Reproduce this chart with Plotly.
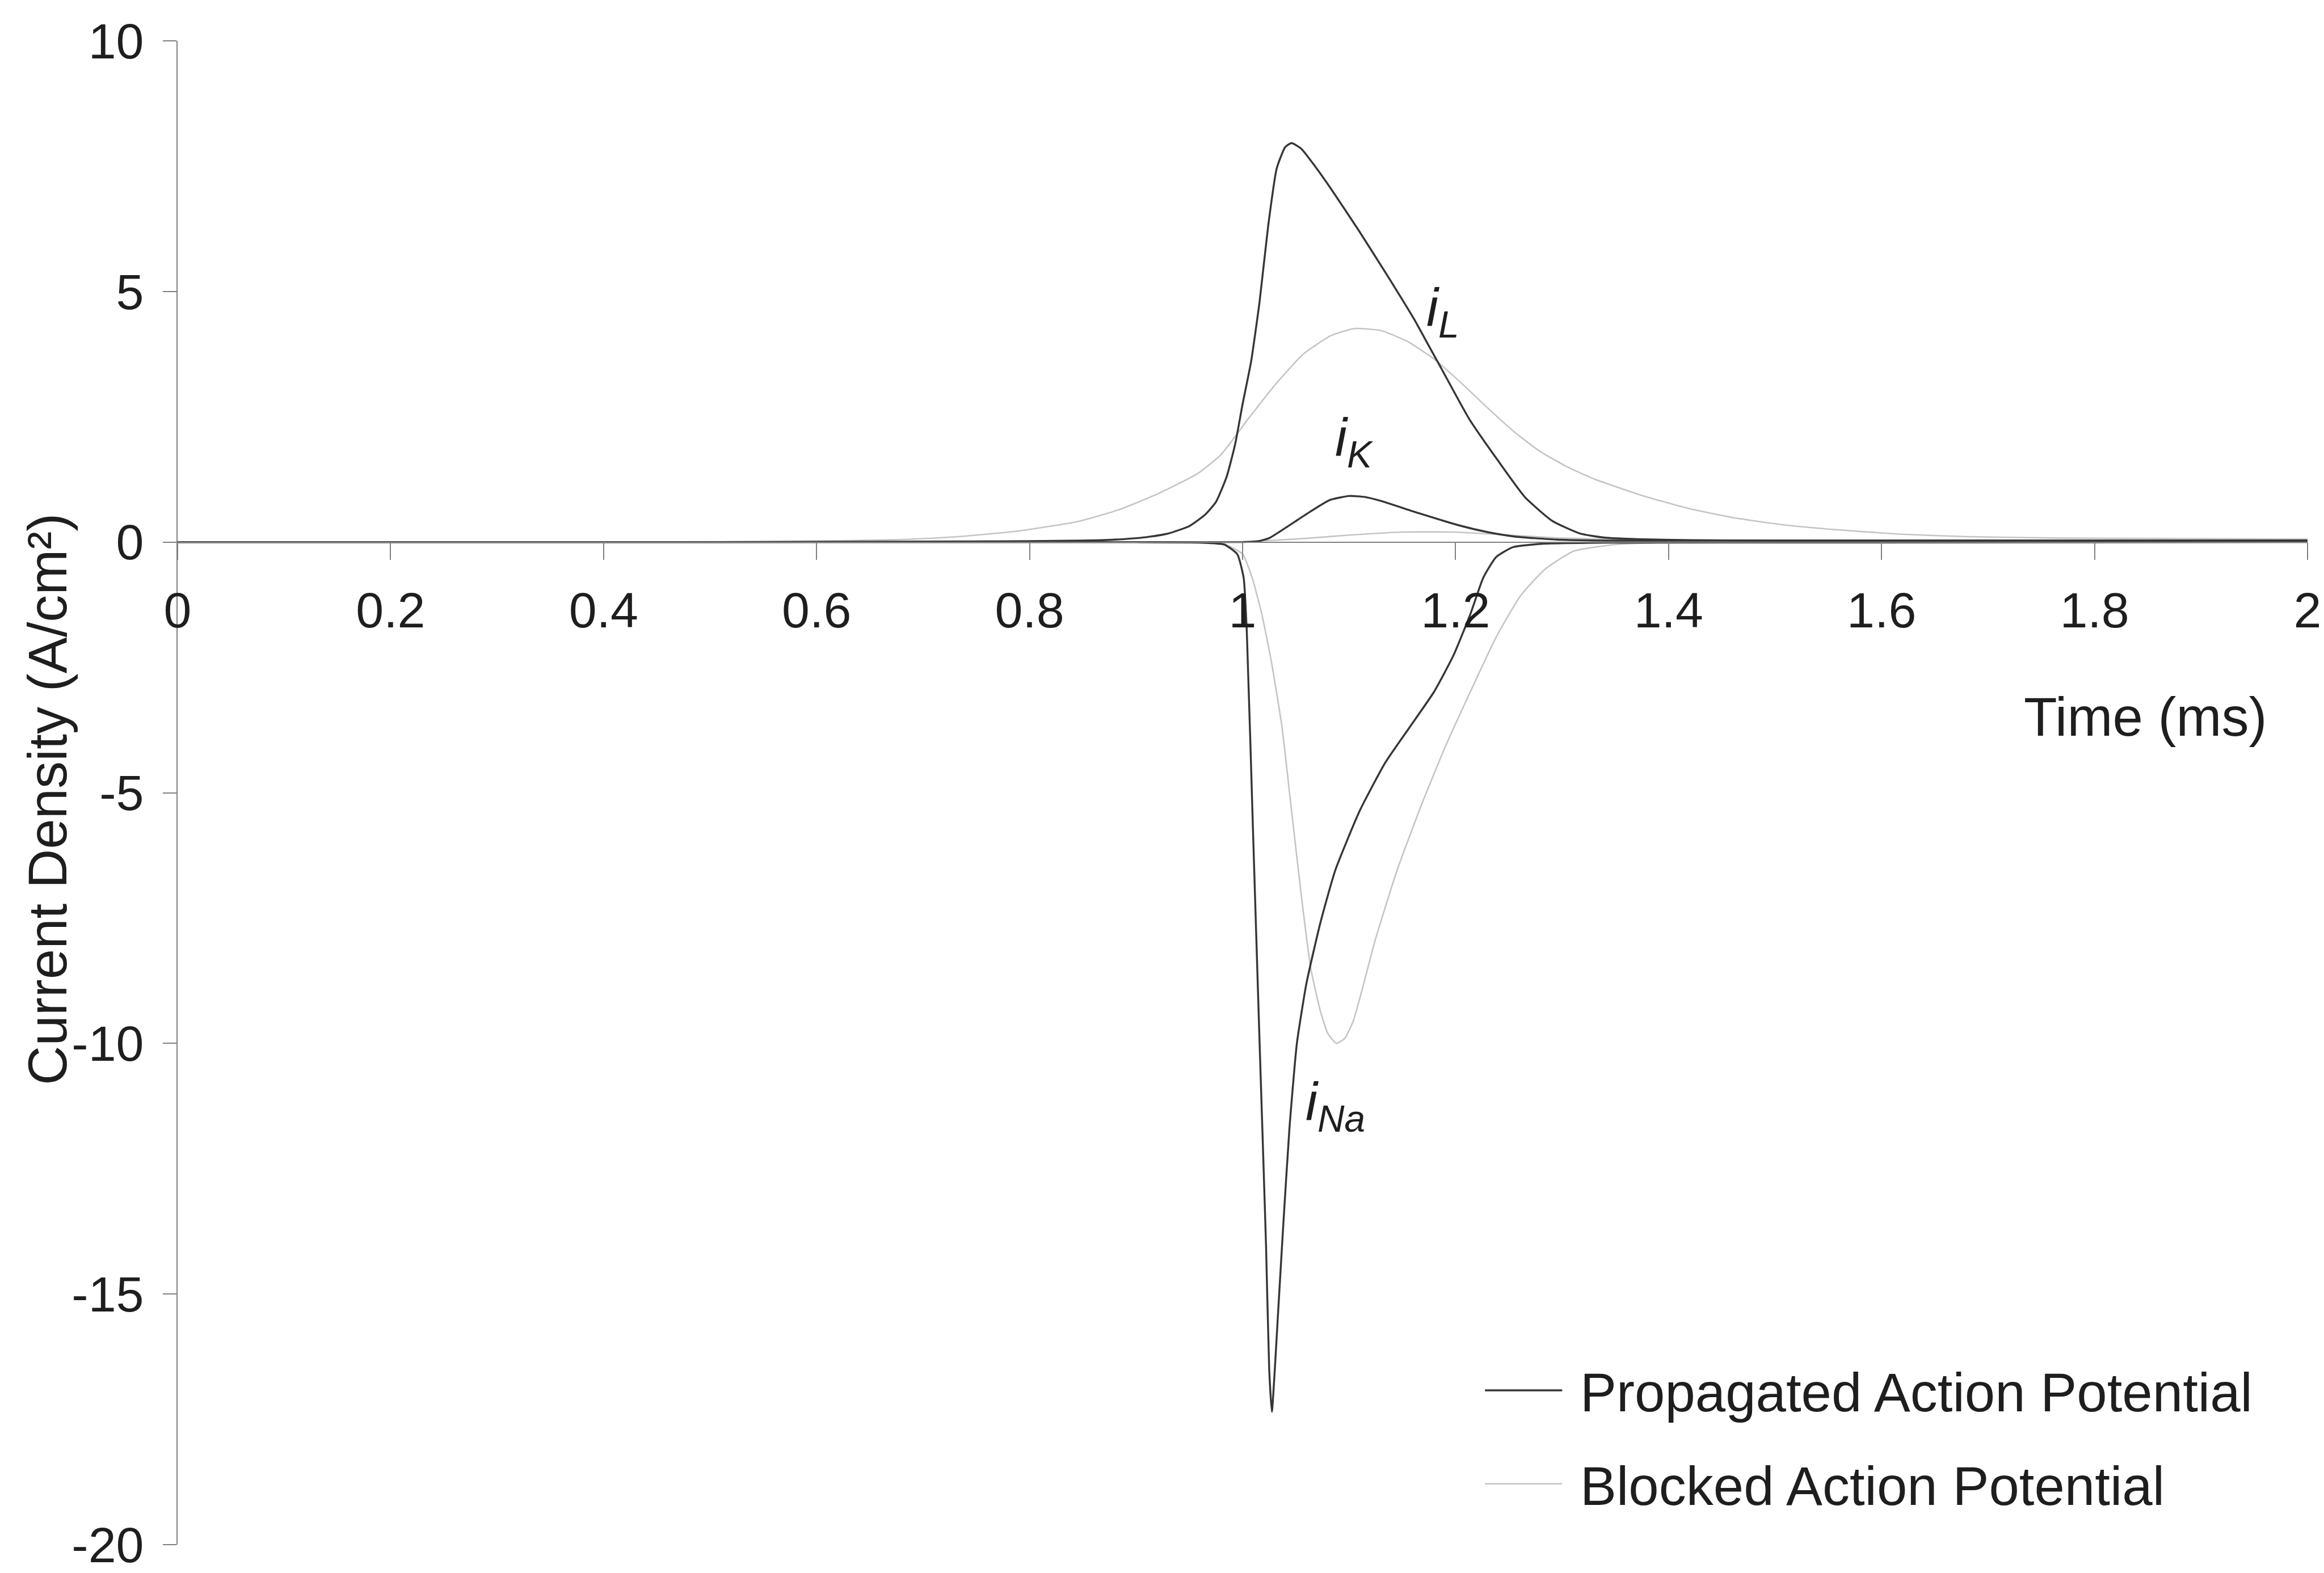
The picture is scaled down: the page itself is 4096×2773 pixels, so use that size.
import plotly.graph_objects as go

# ---------------- data ----------------
t_prop_iL = [0, 0.5, 0.7, 0.8, 0.85, 0.88, 0.91, 0.93, 0.95, 0.965, 0.975, 0.985, 0.993, 1.0, 1.008,
             1.016, 1.024, 1.032, 1.040, 1.046, 1.055, 1.068, 1.083, 1.109, 1.135, 1.161, 1.174,
             1.187, 1.213, 1.239, 1.265, 1.291, 1.317, 1.34, 1.37, 1.42, 1.5, 1.7, 2.0]
v_prop_iL = [0, 0, 0.01, 0.02, 0.03, 0.05, 0.1, 0.17, 0.32, 0.55, 0.8, 1.3, 1.95, 2.75, 3.6,
             4.8, 6.3, 7.45, 7.88, 7.96, 7.85, 7.5, 7.05, 6.22, 5.35, 4.45, 3.95,
             3.45, 2.45, 1.65, 0.9, 0.42, 0.17, 0.09, 0.06, 0.04, 0.03, 0.03, 0.03]

t_block_iL = [0, 0.4, 0.55, 0.6, 0.676, 0.733, 0.789, 0.845, 0.883, 0.92, 0.958, 0.98, 1.005, 1.031,
              1.057, 1.083, 1.105, 1.13, 1.155, 1.18, 1.205, 1.23, 1.255, 1.28, 1.305, 1.33,
              1.375, 1.419, 1.463, 1.506, 1.55, 1.616, 1.68, 1.77, 1.88, 2.0]
v_block_iL = [0, 0, 0.01, 0.02, 0.05, 0.11, 0.22, 0.41, 0.64, 0.96, 1.37, 1.75, 2.45, 3.15,
              3.75, 4.12, 4.26, 4.22, 4.0, 3.65, 3.18, 2.68, 2.2, 1.8, 1.5, 1.26,
              0.93, 0.67, 0.48, 0.35, 0.26, 0.16, 0.11, 0.08, 0.07, 0.06]

t_prop_iK = [0, 0.9, 1.0, 1.015, 1.025, 1.04, 1.063, 1.082, 1.1, 1.115, 1.13, 1.165, 1.204, 1.23,
             1.256, 1.295, 1.35, 1.5, 2.0]
v_prop_iK = [0, 0, 0, 0.02, 0.08, 0.28, 0.6, 0.84, 0.92, 0.9, 0.82, 0.58, 0.33, 0.2,
             0.11, 0.05, 0.03, 0.03, 0.03]

t_block_iK = [0, 0.95, 1.0, 1.05, 1.1, 1.15, 1.2, 1.25, 1.3, 1.4, 1.6, 2.0]
v_block_iK = [0, 0, 0.01, 0.06, 0.14, 0.2, 0.2, 0.14, 0.08, 0.04, 0.03, 0.03]

t_prop_iNa = [0, 0.9, 0.96, 0.983, 0.995, 1.001, 1.004, 1.01, 1.016, 1.022, 1.025, 1.0275, 1.030,
              1.033, 1.038, 1.044, 1.051, 1.060, 1.073, 1.087, 1.11, 1.134, 1.157, 1.18, 1.198,
              1.214, 1.226, 1.238, 1.254, 1.284, 1.35, 2.0]
v_prop_iNa = [0, 0, -0.01, -0.05, -0.24, -0.71, -1.8, -5.9, -10.0, -14.0, -16.5, -17.35, -16.6,
              -15.5, -13.7, -11.7, -10.0, -8.8, -7.6, -6.55, -5.36, -4.40, -3.69, -2.98, -2.26,
              -1.43, -0.71, -0.30, -0.1, -0.03, -0.01, 0]

t_block_iNa = [0, 0.9, 0.96, 0.983, 1.0, 1.009, 1.018, 1.027, 1.037, 1.046, 1.055, 1.064, 1.073,
               1.080, 1.088, 1.096, 1.104, 1.112, 1.124, 1.145, 1.168, 1.191, 1.214, 1.238, 1.261,
               1.284, 1.311, 1.35, 1.4, 2.0]
v_block_iNa = [0, 0, -0.01, -0.04, -0.24, -0.71, -1.43, -2.38, -3.69, -5.36, -7.02, -8.5, -9.35,
               -9.8, -10.0, -9.9, -9.55, -8.95, -7.98, -6.55, -5.24, -4.05, -2.98, -1.90, -1.07,
               -0.54, -0.18, -0.05, -0.01, 0]

x_tick_vals = [0, 0.2, 0.4, 0.6, 0.8, 1.0, 1.2, 1.4, 1.6, 1.8, 2.0]
x_tick_text = ["0", "0.2", "0.4", "0.6", "0.8", "1", "1.2", "1.4", "1.6", "1.8", "2"]
y_tick_vals = [-20, -15, -10, -5, 0, 5, 10]
y_tick_text = ["-20", "-15", "-10", "-5", "0", "5", "10"]

series_names = ["Propagated Action Potential", "Blocked Action Potential"]

# ---------------- styling ----------------
FONT = "Liberation Sans, Arial, sans-serif"
DARK = "#363636"
LIGHT = "#c4c4c4"
AXIS = "#808080"
TEXT = "#1e1e1e"
GAP = "\u00a0"  # small gap between legend key and label

fig = go.Figure()

def add(t, v, color, width, group, rank, show):
    fig.add_trace(go.Scatter(
        x=t, y=v, mode="lines",
        line=dict(color=color, width=width, shape="spline", smoothing=0.5),
        name=GAP + group, legendgroup=group, legendrank=rank, showlegend=show,
        hoverinfo="skip"))

# blocked (light) first so propagated (dark) is drawn on top
add(t_block_iL, v_block_iL, LIGHT, 2.6, series_names[1], 2, True)
add(t_block_iK, v_block_iK, LIGHT, 2.6, series_names[1], 2, False)
add(t_block_iNa, v_block_iNa, LIGHT, 2.6, series_names[1], 2, False)
add(t_prop_iL, v_prop_iL, DARK, 3.4, series_names[0], 1, True)
add(t_prop_iK, v_prop_iK, DARK, 3.4, series_names[0], 1, False)
add(t_prop_iNa, v_prop_iNa, DARK, 3.4, series_names[0], 1, False)

fig.update_layout(
    width=4096, height=2773,
    margin=dict(l=305, r=37, t=64, b=58, autoexpand=False),
    paper_bgcolor="white", plot_bgcolor="white",
    font=dict(family=FONT, color=TEXT),
    showlegend=True,
    legend=dict(
        x=0.6125, xanchor="left", y=0.1286, yanchor="top",
        font=dict(family=FONT, size=96, color=TEXT),
        bgcolor="rgba(0,0,0,0)", borderwidth=0,
        itemwidth=136, tracegroupgap=37,
    ),
    xaxis=dict(
        range=[0, 2], tickvals=x_tick_vals, ticktext=x_tick_text,
        anchor="free", position=2 / 3, automargin=False,
        showline=True, linecolor=AXIS, linewidth=1.7,
        ticks="outside", ticklen=30, tickwidth=1.7, tickcolor=AXIS,
        tickfont=dict(family=FONT, size=88, color=TEXT),
        ticklabelstandoff=14, ticklabeloverflow="allow",
        showgrid=False, zeroline=False,
    ),
    yaxis=dict(
        range=[-20, 10], tickvals=y_tick_vals, ticktext=y_tick_text,
        automargin=False,
        showline=True, linecolor=AXIS, linewidth=1.7,
        ticks="outside", ticklen=24, tickwidth=1.7, tickcolor=AXIS,
        tickfont=dict(family=FONT, size=88, color=TEXT),
        ticklabelstandoff=16, ticklabeloverflow="allow",
        showgrid=False, zeroline=False,
    ),
)

annots = [
    dict(text="Time (ms)", xref="paper", yref="paper", x=0.9814, y=0.5504,
         xanchor="right", yanchor="middle", font=dict(size=96)),
    dict(text="Current Density (A/cm\u00b2)", xref="paper", yref="paper", x=-0.061, y=0.4957,
         xanchor="center", yanchor="middle", textangle=-90, font=dict(size=96)),
    dict(text="<i>i<sub>L</sub></i>", xref="x", yref="y", x=1.188, y=4.6,
         xanchor="center", yanchor="middle", font=dict(size=94)),
    dict(text="<i>i<sub>K</sub></i>", xref="x", yref="y", x=1.105, y=2.0,
         xanchor="center", yanchor="middle", font=dict(size=94)),
    dict(text="<i>i<sub>Na</sub></i>", xref="x", yref="y", x=1.087, y=-11.25,
         xanchor="center", yanchor="middle", font=dict(size=94)),
]
for a in annots:
    a.setdefault("showarrow", False)
    a["font"] = dict(family=FONT, color=TEXT, size=a["font"]["size"])
    fig.add_annotation(**a)

fig.write_html("out.html")
